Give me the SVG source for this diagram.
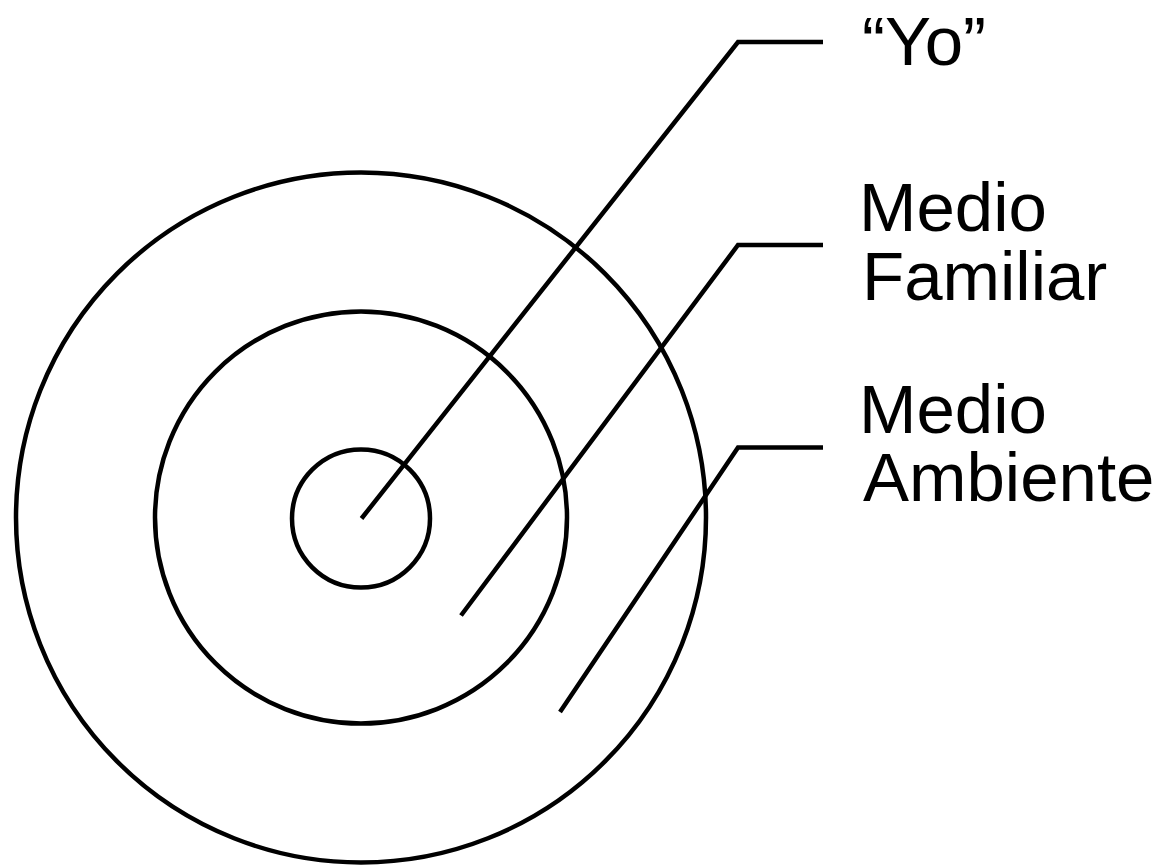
<svg xmlns="http://www.w3.org/2000/svg" width="1160" height="867" viewBox="0 0 1160 867">
<style>
.c{fill:none;stroke:#000;stroke-width:4.5}
.l{fill:none;stroke:#000;stroke-width:4.5;stroke-linejoin:miter}
.t{font-family:"Liberation Sans",Arial,sans-serif;font-size:69px;fill:#000}
</style>
<rect width="1160" height="867" fill="#fff"/>
<g id="outer"><circle class="c" cx="361" cy="517.5" r="345"/></g>
<g id="middle"><circle class="c" cx="361" cy="517.5" r="206"/></g>
<g id="inner"><circle class="c" cx="361" cy="518.5" r="69"/></g>
<g id="connectors">
<polyline class="l" points="361.5,518.5 738,42 823,42"/>
<polyline class="l" points="461,615.5 738,245 823,245"/>
<polyline class="l" points="560,712 738,447.5 823,447.5"/>
</g>
<g id="label-yo"><text class="t" x="862" y="65">“Yo”</text></g>
<g id="label-familiar"><text class="t" x="859" y="231">Medio</text><text class="t" x="862" y="300">Familiar</text></g>
<g id="label-ambiente"><text class="t" x="859" y="433">Medio</text><text class="t" x="863" y="501">Ambiente</text></g>
</svg>
